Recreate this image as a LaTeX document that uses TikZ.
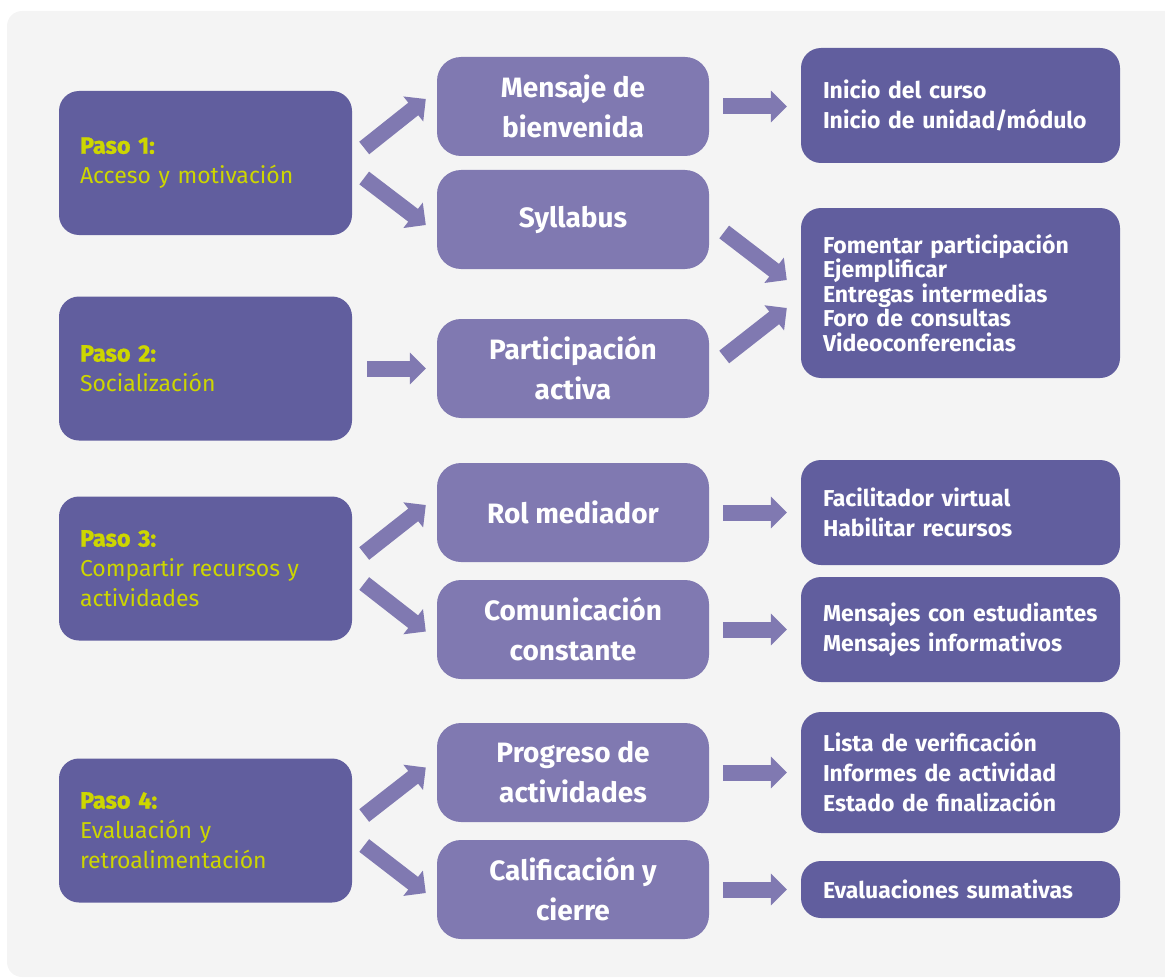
\documentclass[tikz,border=0pt]{standalone}
\usepackage{fontspec}
\setmainfont{Fira Sans}
\newfontface\pasofont[FakeBold=1.2]{Fira Sans Bold}
\usetikzlibrary{arrows.meta,calc}
\definecolor{bgc}{RGB}{244,244,244}
\definecolor{darkc}{RGB}{97,94,158}
\definecolor{midc}{RGB}{128,121,177}
\definecolor{yelc}{RGB}{205,214,0}
\newcommand{\paso}[1]{{\pasofont\fontsize{23.5}{30}\selectfont #1}}
\tikzset{
  x=1pt,y=-1pt,
  stepbox/.style={fill=darkc, rounded corners=20pt, minimum width=293pt, minimum height=144pt,
     inner xsep=21pt, text width=251pt, align=left, text=yelc, font=\fontsize{23}{30}\selectfont},
  midbox/.style={fill=midc, rounded corners=24pt, minimum width=272pt, minimum height=99pt,
     align=center, text=white, font=\bfseries\fontsize{28}{40}\selectfont},
  resbox/.style={fill=darkc, rounded corners=20pt, minimum width=319pt,
     inner xsep=22pt, text width=275pt, align=left, text=white, font=\bfseries\fontsize{23}{30}\selectfont},
  barrow/.style={draw=midc, line width=16pt, -{Triangle[length=16pt,width=31pt]}}
}
\begin{document}
\begin{tikzpicture}
\useasboundingbox (0,0) rectangle (1165,979);
\fill[bgc, rounded corners=15pt] (7,11) rectangle (1180,977);

% left step boxes
\node[stepbox] (p1) at (205.5,163) {\paso{Paso 1:}\\Acceso y motivación};
\node[stepbox] (p2) at (205.5,368.5) {\paso{Paso 2:}\\Socialización};
\node[stepbox] (p3) at (205.5,568.5) {\paso{Paso 3:}\\Compartir recursos y\\actividades};
\node[stepbox] (p4) at (205.5,830.5) {\paso{Paso 4:}\\Evaluación y\\retroalimentación};

% middle boxes
\node[midbox] (m1) at (573,106.5) {Mensaje de\\bienvenida};
\node[midbox] (m2) at (573,219.5) {Syllabus};
\node[midbox] (m3) at (573,368.5) {Participación\\activa};
\node[midbox] (m4) at (573,512.5) {Rol mediador};
\node[midbox] (m5) at (573,629.5) {Comunicación\\constante};
\node[midbox] (m6) at (573,772.5) {Progreso de\\actividades};
\node[midbox] (m7) at (573,889.5) {Calificación y\\cierre};

% right boxes
\node[resbox, minimum height=115pt] (r1) at (960.5,105.5) {Inicio del curso\\Inicio de unidad/módulo};
\node[resbox, minimum height=170pt, font=\bfseries\fontsize{23}{24.5}\selectfont] (r2) at (960.5,293) {Fomentar participación\\Ejemplificar\\Entregas intermedias\\Foro de consultas\\Videoconferencias};
\node[resbox, minimum height=105pt] (r3) at (960.5,512.5) {Facilitador virtual\\Habilitar recursos};
\node[resbox, minimum height=105pt] (r4) at (960.5,629.5) {Mensajes con estudiantes\\Mensajes informativos};
\node[resbox, minimum height=121pt] (r5) at (960.5,772.5) {Lista de verificación\\Informes de actividad\\Estado de finalización};
\node[resbox, minimum height=57pt] (r6) at (960.5,889.5) {Evaluaciones sumativas};

% left arrows
\draw[barrow] ($(p1.east)+(12,-15)$) -- ($(m1.west)+(-11,-7.5)$);
\draw[barrow] ($(p1.east)+(12,15)$) -- ($(m2.west)+(-11,5.5)$);
\draw[barrow] ($(p2.east)+(15,0)$) -- ($(m3.west)+(-11,0)$);
\draw[barrow] ($(p3.east)+(12,-15)$) -- ($(m4.west)+(-11,-7.5)$);
\draw[barrow] ($(p3.east)+(12,15)$) -- ($(m5.west)+(-11,2)$);
\draw[barrow] ($(p4.east)+(12,-15)$) -- ($(m6.west)+(-11,-5)$);
\draw[barrow] ($(p4.east)+(12,15)$) -- ($(m7.west)+(-11,3.5)$);

% right arrows
\draw[barrow] ($(m1.east)+(14,0)$) -- ($(m1.east -| r1.west)+(-14,0)$);
\draw[barrow] ($(m2.east)+(15,12.5)$) -- ($(r2.west)+(-14,-13)$);
\draw[barrow] ($(m3.east)+(15,-11.5)$) -- ($(r2.west)+(-14,15)$);
\draw[barrow] ($(m4.east)+(14,0)$) -- ($(m4.east -| r3.west)+(-14,0)$);
\draw[barrow] ($(m5.east)+(14,0)$) -- ($(m5.east -| r4.west)+(-14,0)$);
\draw[barrow] ($(m6.east)+(14,0)$) -- ($(m6.east -| r5.west)+(-14,0)$);
\draw[barrow] ($(m7.east)+(14,0)$) -- ($(m7.east -| r6.west)+(-14,0)$);
\end{tikzpicture}
\end{document}
